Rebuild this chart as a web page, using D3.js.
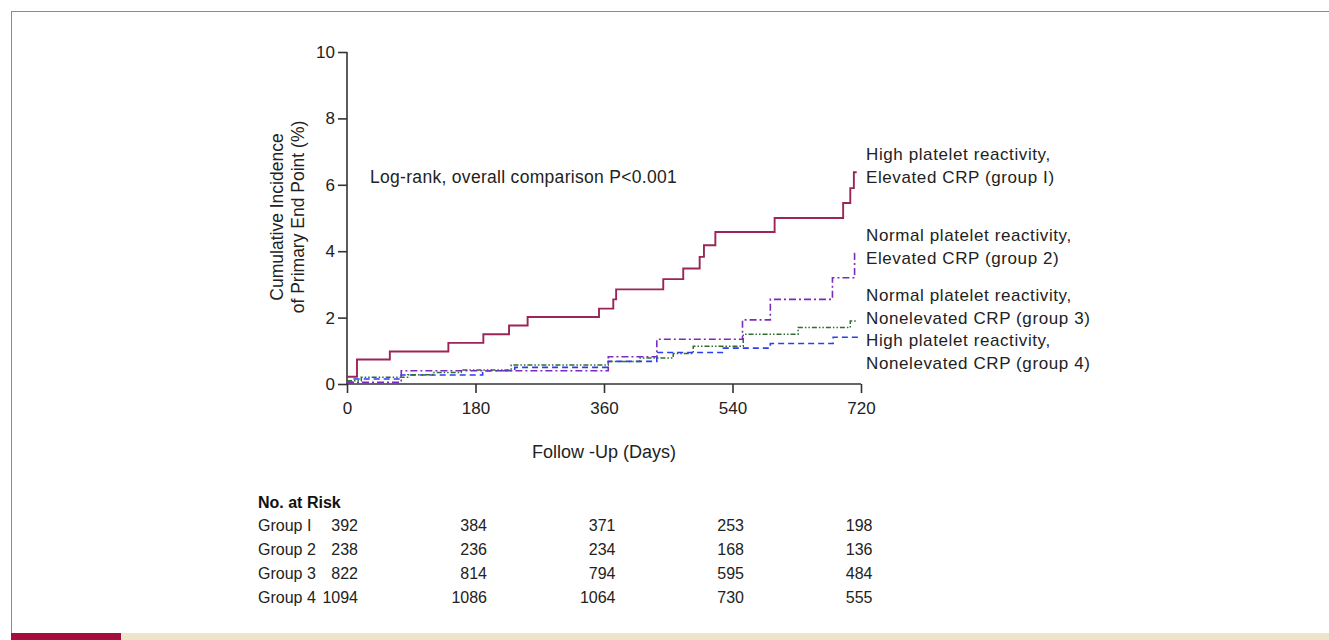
<!DOCTYPE html>
<html>
<head>
<meta charset="utf-8">
<script src="https://cdn.jsdelivr.net/npm/d3@7"></script>
<style>
  body { margin: 0; background: #fff; }
  svg { display: block; font-family: "Liberation Sans", Arial, sans-serif; }
</style>
</head>
<body>
<div id="chart"></div>
<script>
// Kaplan-Meier style step curves: [day, cumulative incidence %]
var group1 = [[0,0.22],[14,0.74],[60,0.98],[142,1.24],[191,1.5],[227,1.76],[253,2.02],[353,2.27],[373,2.55],[377,2.85],[443,3.16],[471,3.48],[494,3.83],[500,4.18],[516,4.58],[599,5.0],[695,5.45],[705,5.9],[710,6.38],[714,6.38]]
var group2 = [[0,0.05],[76,0.4],[366,0.82],[434,1.35],[554,1.93],[593,2.55],[680,3.2],[711,3.93],[714,3.93]]
var group3 = [[0,0.1],[20,0.2],[85,0.28],[120,0.35],[160,0.42],[230,0.57],[366,0.68],[410,0.78],[457,0.92],[485,1.14],[555,1.5],[632,1.7],[705,1.9],[714,1.9]]
var group4 = [[0,0.05],[10,0.15],[76,0.27],[190,0.4],[235,0.5],[366,0.68],[434,0.95],[527,1.08],[593,1.22],[681,1.41],[720,1.41]]

var xTicks = [0, 180, 360, 540, 720]
var yTicks = [0, 2, 4, 6, 8, 10]

var legendLabels = [
  ["High platelet reactivity,", "Elevated CRP (group I)"],
  ["Normal platelet reactivity,", "Elevated CRP (group 2)"],
  ["Normal platelet reactivity,", "Nonelevated CRP (group 3)"],
  ["High platelet reactivity,", "Nonelevated CRP (group 4)"]
]

var riskGroups = ["Group I", "Group 2", "Group 3", "Group 4"]
var riskCounts = [
  [392, 384, 371, 253, 198],
  [238, 236, 234, 168, 136],
  [822, 814, 794, 595, 484],
  [1094, 1086, 1064, 730, 555]
]

var W = 1329, H = 640

var svg = d3.select('#chart').append('svg')
  .attr('width', W)
  .attr('height', H)

// page frame
svg.append('line').attr('x1', 11).attr('x2', W).attr('y1', 11.5).attr('y2', 11.5)
  .attr('stroke', '#8a8a8a').attr('stroke-width', 1)
svg.append('line').attr('x1', 11.5).attr('x2', 11.5).attr('y1', 11).attr('y2', 633)
  .attr('stroke', '#8a8a8a').attr('stroke-width', 1)
svg.append('rect').attr('x', 11).attr('y', 633).attr('width', W - 11).attr('height', 7).attr('fill', '#ece4cb')
svg.append('rect').attr('x', 11).attr('y', 633).attr('width', 110).attr('height', 7).attr('fill', '#a50d3a')

var x = d3.scaleLinear().domain([0, 720]).range([347, 861])
var y = d3.scaleLinear().domain([0, 10]).range([384, 52])

var axisColor = '#333'

// axes
var gx = svg.append('g')
  .attr('transform', 'translate(0,' + y(0) + ')')
  .call(d3.axisBottom(x).tickValues(xTicks).tickSize(9).tickPadding(9))
var gy = svg.append('g')
  .attr('transform', 'translate(' + x(0) + ',0)')
  .call(d3.axisLeft(y).tickValues(yTicks).tickSize(9).tickPadding(3))

;[gx, gy].forEach(function(g){
  g.select('.domain').attr('stroke', axisColor).attr('stroke-width', 1.6)
  g.selectAll('.tick line').attr('stroke', axisColor).attr('stroke-width', 1.6)
  g.selectAll('.tick text')
    .attr('font-family', '"Liberation Sans", Arial, sans-serif')
    .attr('font-size', '17px')
    .attr('fill', '#222')
})
gx.select('.domain').attr('d', 'M' + x(0) + ',0H' + x(720))
gy.select('.domain').attr('d', 'M0,' + y(0) + 'V' + y(10))

// axis titles
svg.append('text')
  .attr('transform', 'translate(283,217) rotate(-90)')
  .attr('text-anchor', 'middle')
  .attr('font-size', '17.5px')
  .attr('fill', '#222')
  .text('Cumulative Incidence')
svg.append('text')
  .attr('transform', 'translate(304,217) rotate(-90)')
  .attr('text-anchor', 'middle')
  .attr('font-size', '17.5px')
  .attr('fill', '#222')
  .text('of Primary End Point (%)')

svg.append('text')
  .attr('x', 604).attr('y', 458)
  .attr('text-anchor', 'middle')
  .attr('font-size', '18px')
  .attr('fill', '#222')
  .text('Follow -Up (Days)')

svg.append('text')
  .attr('x', 370).attr('y', 183)
  .attr('font-size', '17.5px')
  .attr('letter-spacing', '0.3px')
  .attr('fill', '#222')
  .text('Log-rank, overall comparison P<0.001')

// curves
var line = d3.line()
  .x(function(d) { return x(d[0]) })
  .y(function(d) { return y(d[1]) })
  .curve(d3.curveStepAfter)

var series = [
  {data: group4, color: '#2b3df0', dash: '6,4', width: 1.6},
  {data: group3, color: '#2f6e2f', dash: '5,2,1.5,2,1.5,2', width: 1.5},
  {data: group2, color: '#7a2bbf', dash: '7,3,2,3', width: 1.6},
  {data: group1, color: '#9b2458', dash: null, width: 1.9}
]

series.forEach(function(s){
  svg.append('path')
    .datum(s.data)
    .attr('fill', 'none')
    .attr('stroke', s.color)
    .attr('stroke-width', s.width)
    .attr('stroke-dasharray', s.dash)
    .attr('d', line)
})

// legend labels
var legendY = [160, 241, 301, 346]
legendLabels.forEach(function(lines, i){
  var t = svg.append('text')
    .attr('x', 866).attr('y', legendY[i])
    .attr('font-size', '17px')
    .attr('fill', '#222')
    .attr('letter-spacing', '0.6px')
  lines.forEach(function(l, j){
    t.append('tspan').attr('x', 866).attr('dy', j ? 23 : 0).text(l)
  })
})

// number at risk table
svg.append('text')
  .attr('x', 258).attr('y', 508)
  .attr('font-size', '16px')
  .attr('font-weight', 'bold')
  .attr('fill', '#111')
  .text('No. at Risk')

var rowY = [531, 555, 579, 603]
riskGroups.forEach(function(g, i){
  svg.append('text')
    .attr('x', 258).attr('y', rowY[i])
    .attr('font-size', '16px')
    .attr('fill', '#222')
    .text(g)
  riskCounts[i].forEach(function(v, j){
    svg.append('text')
      .attr('x', j === 0 ? 358 : x(xTicks[j]) + 11.5)
      .attr('y', rowY[i])
      .attr('text-anchor', 'end')
      .attr('font-size', '16px')
      .attr('fill', '#222')
      .text(v)
  })
})
</script>
</body>
</html>
